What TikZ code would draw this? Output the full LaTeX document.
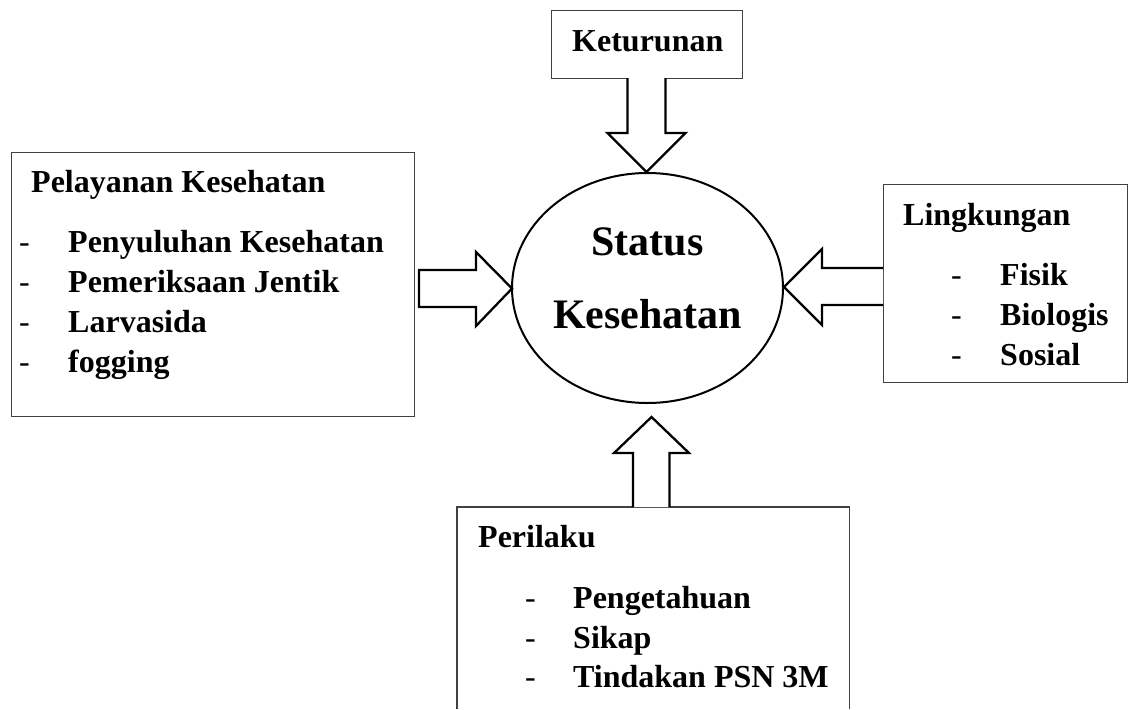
\documentclass[tikz,border=0pt]{standalone}
\usepackage{fontspec}
\setmainfont{Liberation Serif}
\usetikzlibrary{shapes.geometric}
\tikzset{
  box/.style={draw=black!75, line width=1.3pt, inner sep=0pt, anchor=north west},
  blockarrow/.style={draw=black, line width=2.3pt, fill=white, line join=miter},
  txt/.style={anchor=base west, inner sep=0pt, font=\fontsize{32}{38}\selectfont\bfseries},
  dashtxt/.style={anchor=base west, inner sep=0pt, font=\fontsize{32}{38}\selectfont\mdseries},
  bigtxt/.style={anchor=base, inner sep=0pt, font=\fontsize{42}{50}\selectfont\bfseries},
}
\begin{document}
\begin{tikzpicture}[x=1pt,y=-1pt]
\useasboundingbox (0,0) rectangle (1134,709);

% boxes
\node[box, minimum width=191pt, minimum height=68pt] (ket) at (551,10) {};
\node[box, minimum width=403pt, minimum height=264pt] (pel) at (11,152) {};
\node[box, minimum width=244pt, minimum height=198pt] (lin) at (883,184) {};
\node[inner sep=0pt, anchor=north west, minimum width=392pt, minimum height=202pt] (per) at (457,507) {};
\draw[draw=black!75, line width=1.3pt] (per.south west) -- (per.north west) -- (per.north east) -- (per.south east);

% central ellipse
\node[ellipse, draw=black, line width=2pt, minimum width=271pt, minimum height=230pt] (st) at (647.5,288) {};

% block arrows
\draw[blockarrow] (627.5,78) -- (627.5,133) -- (607.5,133) -- (646.5,172) -- (685.5,133) -- (665.5,133) -- (665.5,78);
\draw[blockarrow] (419,270) -- (476,270) -- (476,252) -- (512,288.5) -- (476,326) -- (476,307) -- (419,307) -- cycle;
\draw[blockarrow] (883,268) -- (822,268) -- (822,249) -- (784,287) -- (822,325) -- (822,305) -- (883,305);
\draw[blockarrow] (633,507) -- (633,453) -- (614,453) -- (651.5,417) -- (689,453) -- (669.5,453) -- (669.5,507);

% texts
\node[txt] (tket) at (572,52) {Keturunan};
\node[bigtxt] (ts1) at (647.5,255) {Status};
\node[bigtxt] (ts2) at (647.5,328) {Kesehatan};

\node[txt] (tpel) at (31,192) {Pelayanan Kesehatan};
\node[dashtxt] (dp1) at (19,252) {-};
\node[dashtxt] (dp2) at (19,292) {-};
\node[dashtxt] (dp3) at (19,332) {-};
\node[dashtxt] (dp4) at (19,372) {-};
\node[txt] (ip1) at (68,252) {Penyuluhan Kesehatan};
\node[txt] (ip2) at (68,292) {Pemeriksaan Jentik};
\node[txt] (ip3) at (68,332) {Larvasida};
\node[txt] (ip4) at (68,372) {fogging};

\node[txt] (tlin) at (903,225) {Lingkungan};
\node[dashtxt] (dl1) at (951,285) {-};
\node[dashtxt] (dl2) at (951,325) {-};
\node[dashtxt] (dl3) at (951,365) {-};
\node[txt] (il1) at (1000,285) {Fisik};
\node[txt] (il2) at (1000,325) {Biologis};
\node[txt] (il3) at (1000,365) {Sosial};

\node[txt] (tper) at (478,547) {Perilaku};
\node[dashtxt] (dr1) at (525,608) {-};
\node[dashtxt] (dr2) at (525,648) {-};
\node[dashtxt] (dr3) at (525,687) {-};
\node[txt] (ir1) at (573,608) {Pengetahuan};
\node[txt] (ir2) at (573,648) {Sikap};
\node[txt] (ir3) at (573,687) {Tindakan PSN 3M};
\end{tikzpicture}
\end{document}
